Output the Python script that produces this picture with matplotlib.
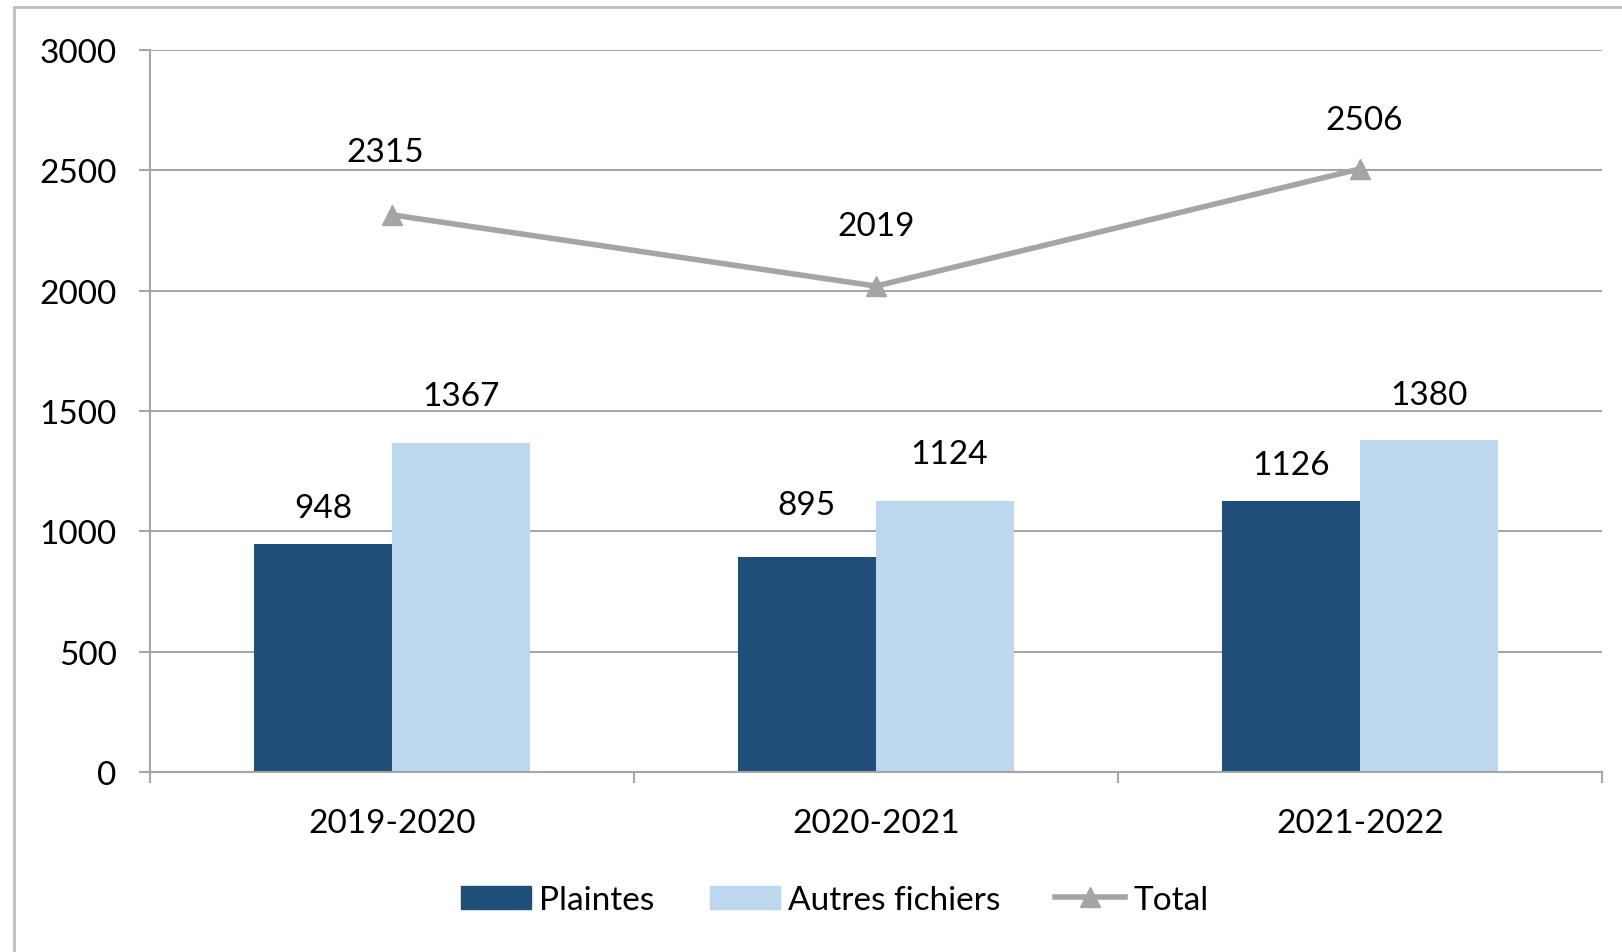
import matplotlib
matplotlib.use("Agg")
import matplotlib.pyplot as plt
from matplotlib.lines import Line2D
import numpy as np

categories = ["2019-2020", "2020-2021", "2021-2022"]
plaintes = [948, 895, 1126]
autres = [1367, 1124, 1380]
total = [2315, 2019, 2506]
yticks = [0, 500, 1000, 1500, 2000, 2500, 3000]

# label offsets in points (style only)
off_pl = [(0, 26), (0, 37), (0, 26)]
off_au = [(0, 34), (3, 34), (0, 32)]
off_tot = [(-5, 45), (0, 43), (3, 35)]

plt.rcParams['font.family'] = ['Lato', 'DejaVu Sans']
FS = 24
c_pl = "#1F4E79"
c_au = "#BDD7EE"
c_tot = "#A5A5A5"
grid_c = "#A6A6A6"

fig = plt.figure(figsize=(16.22, 9.53), dpi=100)
ax = fig.add_axes([150/1622, 1-773/953, (1602-150)/1622, (773-51)/953])

x = np.arange(len(categories))
w = 1/3.5
ax.bar(x - w/2, plaintes, width=w, color=c_pl, zorder=2)
ax.bar(x + w/2, autres, width=w, color=c_au, zorder=2)
ax.plot(x, total, color=c_tot, lw=4, marker='^', markersize=15, zorder=3)

for xi, v, o in zip(x - w/2, plaintes, off_pl):
    ax.annotate(str(v), (xi, v), xytext=o, textcoords='offset points',
                ha='center', va='center', fontsize=FS)
for xi, v, o in zip(x + w/2, autres, off_au):
    ax.annotate(str(v), (xi, v), xytext=o, textcoords='offset points',
                ha='center', va='center', fontsize=FS)
for xi, v, o in zip(x, total, off_tot):
    ax.annotate(str(v), (xi, v), xytext=o, textcoords='offset points',
                ha='center', va='center', fontsize=FS)

ax.set_xlim(-0.5, len(categories) - 0.5)
ax.set_ylim(0, 3000)
ax.set_yticks(yticks)
ax.set_yticklabels([str(t) for t in yticks], fontsize=FS)
ax.yaxis.grid(True, color=grid_c, lw=1.5, zorder=0)
ax.set_axisbelow(True)
ax.tick_params(axis='y', length=8, width=1.5, color=grid_c, pad=16)

ax.set_xticks(x)
ax.set_xticklabels(categories, fontsize=FS)
ax.tick_params(axis='x', which='major', length=0, pad=26)
ax.set_xticks(np.arange(-0.5, len(categories)), minor=True)
ax.tick_params(axis='x', which='minor', length=8, width=1.5, color=grid_c)

for s in ['top', 'right']:
    ax.spines[s].set_visible(False)
for s in ['left', 'bottom']:
    ax.spines[s].set_color(grid_c)
    ax.spines[s].set_linewidth(1.5)

handles = [plt.Rectangle((0, 0), 1, 1, color=c_pl),
           plt.Rectangle((0, 0), 1, 1, color=c_au),
           Line2D([], [], color=c_tot, lw=4, marker='^', markersize=15)]
fig.legend(handles, ["Plaintes", "Autres fichiers", "Total"], ncol=3,
           frameon=False, loc='center', bbox_to_anchor=(835/1622, 1-901/953),
           fontsize=FS, handlelength=2.1, handleheight=0.7, handletextpad=0.25,
           columnspacing=1.65)

fig.add_artist(Line2D([14/1622, 14/1622], [0, 1-8/953], transform=fig.transFigure,
                      color="#BFBFBF", lw=2))
fig.add_artist(Line2D([14/1622, 1], [1-8/953, 1-8/953], transform=fig.transFigure,
                      color="#BFBFBF", lw=2))

fig.savefig("out.png", dpi=100)
